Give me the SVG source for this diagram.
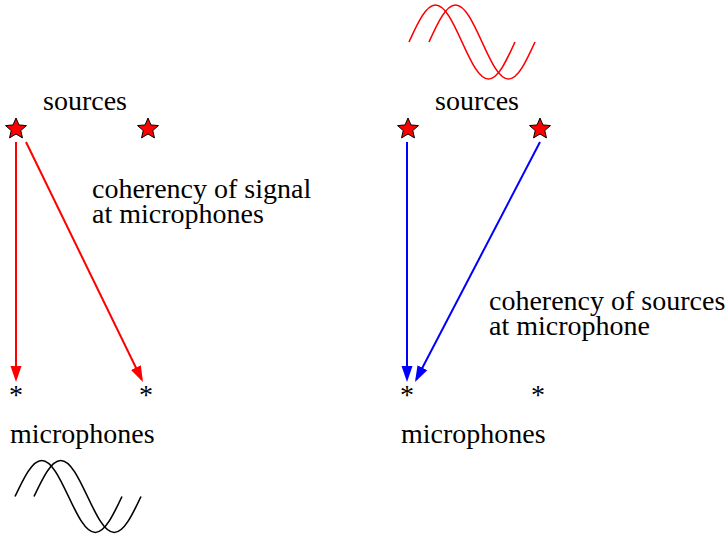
<svg xmlns="http://www.w3.org/2000/svg" width="727" height="540" viewBox="0 0 727 540">
  <style>
    .star { fill: #ff0000; stroke: #000; stroke-width: 1; stroke-linejoin: miter; }
    .red { stroke: #ff0000; stroke-width: 2; fill: none; }
    .blue { stroke: #0000ff; stroke-width: 2; fill: none; }
    .wave { fill: none; stroke-width: 1.6; }
  </style>
  <defs>
    <polygon id="star" class="star" points="0,-11 2.94,-4.05 10.46,-3.4 4.76,1.55 6.47,8.9 0,5 -6.47,8.9 -4.76,1.55 -10.46,-3.4 -2.94,-4.05"/>
    <marker id="ahRed" markerUnits="userSpaceOnUse" markerWidth="16" markerHeight="12" viewBox="0 0 16 12" refX="13" refY="6" orient="auto">
      <path d="M0,0.5 L16,6 L0,11.5 z" fill="#ff0000"/>
    </marker>
    <marker id="ahBlue" markerUnits="userSpaceOnUse" markerWidth="16" markerHeight="12" viewBox="0 0 16 12" refX="13" refY="6" orient="auto">
      <path d="M0,0.5 L16,6 L0,11.5 z" fill="#0000ff"/>
    </marker>
    <!-- one full sine period, starting on the midline going up -->
    <path id="sineTop" d="M0,0 c8.64,-18.95 16.91,-37 26.5,-37 c9.59,0 17.86,18.05 26.5,37 c8.64,18.95 16.91,37 26.5,37 c9.59,0 17.86,-18.05 26.5,-37"/>
    <path id="sineBot" d="M0,0 c8.72,-18.44 17.07,-36 26.75,-36 c9.68,0 18.03,17.56 26.75,36 c8.72,18.44 17.07,36 26.75,36 c9.68,0 18.03,-17.56 26.75,-36"/>
  </defs>

  <!-- connectors -->
  <g id="connectors">
    <line class="red" x1="16" y1="142" x2="16" y2="379" marker-end="url(#ahRed)"/>
    <line class="red" x1="26" y1="142" x2="141.6" y2="379.3" marker-end="url(#ahRed)"/>
    <line class="blue" x1="407" y1="142" x2="407" y2="379" marker-end="url(#ahBlue)"/>
    <line class="blue" x1="540" y1="142" x2="416.4" y2="379.3" marker-end="url(#ahBlue)"/>
  </g>

  <g font-family="'Liberation Serif', 'Times New Roman', Times, serif" font-size="28" fill="#000">
    <!-- left panel -->
    <g id="source-left-1"><use href="#star" x="16" y="129"/></g>
    <g id="source-left-2"><use href="#star" x="148" y="129"/></g>
    <g id="label-sources-left"><text x="43" y="110">sources</text></g>
    <g id="label-signal"><text x="92" y="198">coherency of signal</text><text x="92" y="223">at microphones</text></g>
    <g id="mic-left-1"><text x="16" y="404" text-anchor="middle">*</text></g>
    <g id="mic-left-2"><text x="146" y="404" text-anchor="middle">*</text></g>
    <g id="label-mics-left"><text x="10" y="443">microphones</text></g>
    <g id="wave-mics" stroke="#000">
      <use href="#sineBot" class="wave" x="15" y="496.5"/>
      <use href="#sineBot" class="wave" x="34" y="496.5"/>
    </g>

    <!-- right panel -->
    <g id="wave-sources" stroke="#ff0000">
      <use href="#sineTop" class="wave" x="409" y="42"/>
      <use href="#sineTop" class="wave" x="429" y="42"/>
    </g>
    <g id="source-right-1"><use href="#star" x="408" y="129"/></g>
    <g id="source-right-2"><use href="#star" x="540" y="129"/></g>
    <g id="label-sources-right"><text x="435" y="110">sources</text></g>
    <g id="label-sources-coh"><text x="489" y="310">coherency of sources</text><text x="489" y="335">at microphone</text></g>
    <g id="mic-right-1"><text x="407" y="404" text-anchor="middle">*</text></g>
    <g id="mic-right-2"><text x="538" y="404" text-anchor="middle">*</text></g>
    <g id="label-mics-right"><text x="401" y="443">microphones</text></g>
  </g>
</svg>
